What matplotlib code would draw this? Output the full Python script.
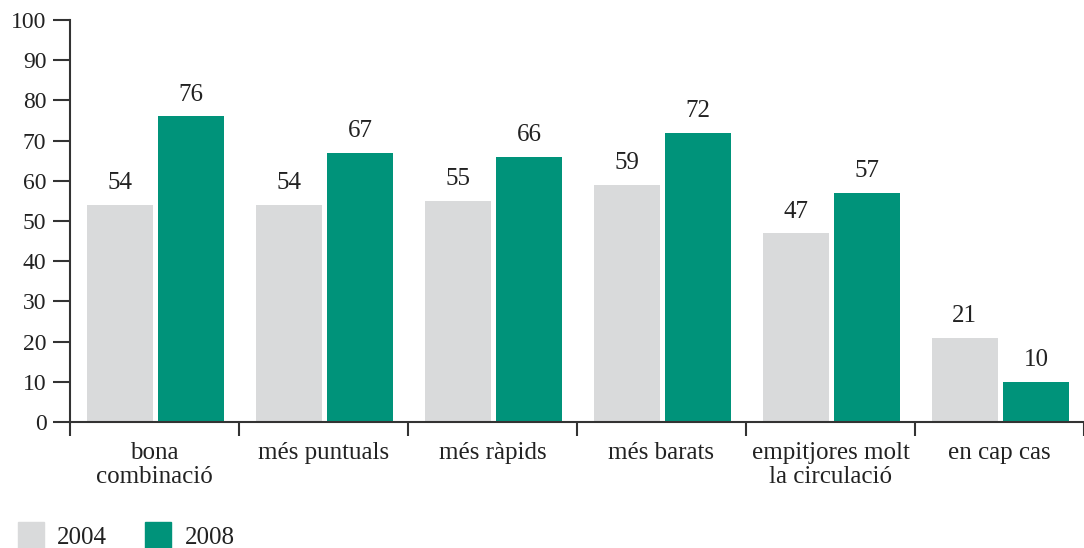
import matplotlib
matplotlib.use("Agg")
import matplotlib.pyplot as plt
import numpy as np
from matplotlib.patches import Rectangle

categories = ["bona\ncombinació", "més puntuals", "més ràpids", "més barats",
              "empitjores molt\nla circulació", "en cap cas"]
vals_2004 = [54, 54, 55, 59, 47, 21]
vals_2008 = [76, 67, 66, 72, 57, 10]
years = ["2004", "2008"]

grey = "#d9dadb"
green = "#00937a"
axcol = "#333333"

plt.rcParams['font.family'] = ['Liberation Serif', 'DejaVu Serif']

W, H = 1084, 548
fig = plt.figure(figsize=(W / 100, H / 100), dpi=100)
ax = fig.add_axes([70 / W, 126 / H, 1014 / W, 402 / H])

x = np.arange(len(categories))
bw = 66 / 170
ax.bar(x + 17 / 170, vals_2004, width=bw, align='edge', color=grey)
ax.bar(x + 89 / 170, vals_2008, width=bw, align='edge', color=green)

for i in range(len(categories)):
    ax.text(x[i] + 50 / 170, vals_2004[i] + 2.6, str(vals_2004[i]),
            ha='center', va='bottom', fontsize=18, color='#222222')
    ax.text(x[i] + 122 / 170, vals_2008[i] + 2.6, str(vals_2008[i]),
            ha='center', va='bottom', fontsize=18, color='#222222')

ax.set_xlim(0, 1014 / 170)
ax.set_ylim(0, 100)
ax.set_yticks(range(0, 101, 10))
ax.set_yticklabels([str(v) for v in range(0, 101, 10)], fontsize=17)
ax.tick_params(axis='y', length=12, width=1.5, color=axcol, pad=5, labelcolor='#222222')

ax.set_xticks(range(len(categories) + 1))
ax.set_xticklabels([])
ax.tick_params(axis='x', length=10, width=1.5, color=axcol)
for i, c in enumerate(categories):
    ax.text(i + 0.5, -5.0, c, ha='center', va='top', fontsize=18,
            color='#222222', linespacing=1.1)

for s in ['top', 'right']:
    ax.spines[s].set_visible(False)
for s in ['left', 'bottom']:
    ax.spines[s].set_color(axcol)
    ax.spines[s].set_linewidth(1.5)

# legend
fig.patches.append(Rectangle((18 / W, 0), 26 / W, 26 / H, color=grey,
                             transform=fig.transFigure, figure=fig))
fig.patches.append(Rectangle((145 / W, 0), 26 / W, 26 / H, color=green,
                             transform=fig.transFigure, figure=fig))
fig.text(57 / W, 10 / H, years[0], fontsize=18, va='center', color='#222222')
fig.text(185 / W, 10 / H, years[1], fontsize=18, va='center', color='#222222')

fig.savefig("out.png", dpi=100)
